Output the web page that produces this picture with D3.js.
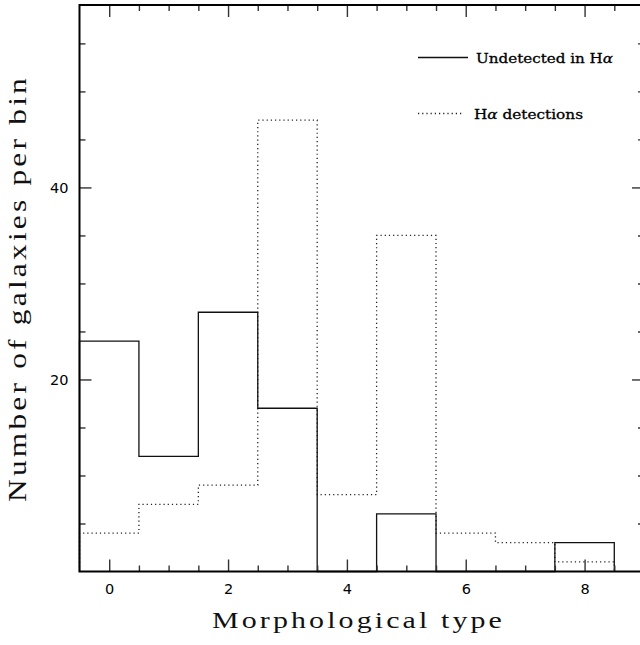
<!DOCTYPE html>
<html>
<head>
<meta charset="utf-8">
<script src="https://cdn.jsdelivr.net/npm/d3@7"></script>
<style>
  body { margin: 0; background: #fff; }
  svg { display: block; }
</style>
</head>
<body>
<script>
// Morphological type bins and galaxy counts per bin
const types = [0, 1, 2, 3, 4, 5, 6, 7, 8];
const undetected = [24, 12, 27, 17, 0, 6, 0, 0, 3];
const detected = [4, 7, 9, 47, 8, 35, 4, 3, 1];

// Labelled ticks
const xTickLabels = [0, 2, 4, 6, 8];
const yTickLabels = [20, 40];
const xMinorTicks = [0.5, 1, 1.5, 2.5, 3, 3.5, 4.5, 5, 5.5, 6.5, 7, 7.5, 8.5];
const yMinorTicks = [5, 10, 15, 25, 30, 35, 45, 50, 55];

const width = 640, height = 645;
const svg = d3.select("body").append("svg")
  .attr("width", width).attr("height", height);

const x = d3.scaleLinear().domain([-0.5, 9]).range([79.5, 644]);
const y = d3.scaleLinear().domain([0, 59]).range([571.5, 5]);

// Step outline of a histogram, dropping to zero at both ends
function stepPoints(values) {
  const pts = [[types[0] - 0.5, 0]];
  types.forEach((t, i) => {
    pts.push([t - 0.5, values[i]]);
    pts.push([t + 0.5, values[i]]);
  });
  pts.push([types[types.length - 1] + 0.5, 0]);
  return pts;
}
const line = d3.line().x(d => x(d[0])).y(d => y(d[1]));

svg.append("path")
  .attr("d", line(stepPoints(detected)))
  .attr("fill", "none")
  .attr("stroke", "#222")
  .attr("stroke-width", 1.3)
  .attr("stroke-dasharray", "1.2,3");

svg.append("path")
  .attr("d", line(stepPoints(undetected)))
  .attr("fill", "none")
  .attr("stroke", "#111")
  .attr("stroke-width", 1.3);

// Axes with inward ticks on all four sides
function styleAxis(g) {
  g.select(".domain").remove();
  g.selectAll(".tick line").attr("stroke", "#333").attr("stroke-width", 1.4);
}
const tickFont = "'DejaVu Sans', sans-serif";

svg.append("g").attr("transform", `translate(0,${y(0)})`)
  .call(d3.axisBottom(x).tickValues(xTickLabels).tickSizeInner(-12).tickSizeOuter(0)
    .tickPadding(12).tickFormat(d3.format("d")))
  .call(styleAxis)
  .call(g => g.selectAll("text").attr("font-family", tickFont).attr("font-size", 14.5).attr("fill", "#000"));
svg.append("g").attr("transform", `translate(0,${y(0)})`)
  .call(d3.axisBottom(x).tickValues(xMinorTicks).tickSizeInner(-6).tickSizeOuter(0).tickFormat(""))
  .call(styleAxis);

svg.append("g").attr("transform", `translate(0,${y(59)})`)
  .call(d3.axisTop(x).tickValues(xTickLabels).tickSizeInner(-12).tickSizeOuter(0).tickFormat(""))
  .call(styleAxis);
svg.append("g").attr("transform", `translate(0,${y(59)})`)
  .call(d3.axisTop(x).tickValues(xMinorTicks).tickSizeInner(-6).tickSizeOuter(0).tickFormat(""))
  .call(styleAxis);

svg.append("g").attr("transform", `translate(${x(-0.5)},0)`)
  .call(d3.axisLeft(y).tickValues(yTickLabels).tickSizeInner(-12).tickSizeOuter(0)
    .tickPadding(11).tickFormat(d3.format("d")))
  .call(styleAxis)
  .call(g => g.selectAll("text").attr("font-family", tickFont).attr("font-size", 14.5).attr("fill", "#000"));
svg.append("g").attr("transform", `translate(${x(-0.5)},0)`)
  .call(d3.axisLeft(y).tickValues(yMinorTicks).tickSizeInner(-6).tickSizeOuter(0).tickFormat(""))
  .call(styleAxis);

svg.append("g").attr("transform", `translate(${x(9)},0)`)
  .call(d3.axisRight(y).tickValues(yTickLabels).tickSizeInner(-12).tickSizeOuter(0).tickFormat(""))
  .call(styleAxis);
svg.append("g").attr("transform", `translate(${x(9)},0)`)
  .call(d3.axisRight(y).tickValues(yMinorTicks).tickSizeInner(-6).tickSizeOuter(0).tickFormat(""))
  .call(styleAxis);

// Frame
svg.append("rect")
  .attr("x", x(-0.5)).attr("y", y(59))
  .attr("width", x(9) - x(-0.5)).attr("height", y(0) - y(59))
  .attr("fill", "none").attr("stroke", "#000").attr("stroke-width", 2);

// Axis titles
const titleFont = "'Liberation Serif', serif";
svg.append("text")
  .attr("x", 212).attr("y", 628)
  .attr("font-family", titleFont).attr("font-size", 24)
  .attr("letter-spacing", 2.5)
  .attr("textLength", 293).attr("lengthAdjust", "spacingAndGlyphs")
  .attr("fill", "#111")
  .text("Morphological type");

svg.append("text")
  .attr("transform", "translate(26,502) rotate(-90)")
  .attr("font-family", titleFont).attr("font-size", 24.5)
  .attr("letter-spacing", 2.5)
  .attr("textLength", 427).attr("lengthAdjust", "spacingAndGlyphs")
  .attr("fill", "#111")
  .text("Number of galaxies per bin");

// Legend
const legendFont = "'DejaVu Serif', serif";
svg.append("line")
  .attr("x1", 418).attr("x2", 468).attr("y1", 57.5).attr("y2", 57.5)
  .attr("stroke", "#111").attr("stroke-width", 1.3);
const t1 = svg.append("text")
  .attr("x", 476).attr("y", 62.5)
  .attr("font-family", legendFont).attr("font-size", 13)
  .attr("textLength", 137).attr("lengthAdjust", "spacingAndGlyphs")
  .attr("fill", "#000").attr("stroke", "#000").attr("stroke-width", 0.3);
t1.append("tspan").text("Undetected in H");
t1.append("tspan").attr("font-style", "italic").text("α");

svg.append("line")
  .attr("x1", 418).attr("x2", 463).attr("y1", 113.5).attr("y2", 113.5)
  .attr("stroke", "#222").attr("stroke-width", 1.3)
  .attr("stroke-dasharray", "1.2,3");
const t2 = svg.append("text")
  .attr("x", 474).attr("y", 118.5)
  .attr("font-family", legendFont).attr("font-size", 13)
  .attr("textLength", 109).attr("lengthAdjust", "spacingAndGlyphs")
  .attr("fill", "#000").attr("stroke", "#000").attr("stroke-width", 0.3);
t2.append("tspan").text("H");
t2.append("tspan").attr("font-style", "italic").text("α");
t2.append("tspan").text(" detections");
</script>
</body>
</html>
